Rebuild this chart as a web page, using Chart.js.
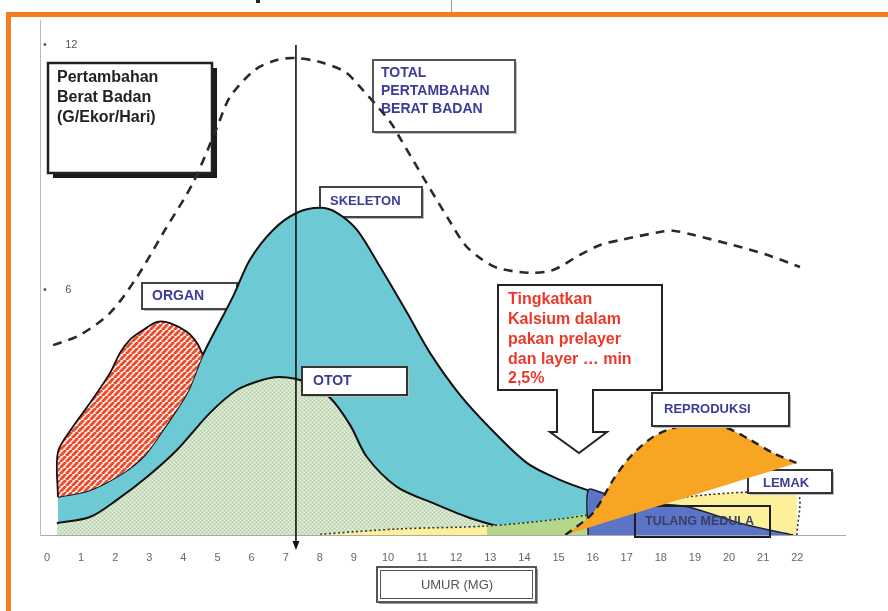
<!DOCTYPE html>
<html>
<head>
<meta charset="utf-8">
<script src="https://cdn.jsdelivr.net/npm/chart.js@4.4.0/dist/chart.umd.min.js"></script>
<style>
html, body { margin: 0; padding: 0; background: #fff; }
#wrap { position: relative; width: 888px; height: 611px; overflow: hidden; }
#frame { position: absolute; left: 6px; top: 12px; width: 1000px; height: 1000px;
  border-top: 5px solid #f47d20; border-left: 5px solid #f47d20; pointer-events: none; }
canvas { position: absolute; left: 0; top: 0; }
</style>
</head>
<body>
<div id="wrap">
  <canvas id="c" width="888" height="611"></canvas>
  <div id="frame"></div>
  <div style="position:absolute;left:451px;top:0;width:1px;height:12px;background:#999"></div>
  <div style="position:absolute;left:256px;top:0;width:4px;height:3px;background:#222"></div>
</div>
<script>
// umur (minggu) on x, gram/ekor/hari on y
const xTicks = [0,1,2,3,4,5,6,7,8,9,10,11,12,13,14,15,16,17,18,19,20,21,22];
const yTicks = [6, 12];

const totalGain = [[0.18,4.65],[0.97,4.90],[1.85,5.44],[2.64,6.32],[3.46,7.47],[4.28,8.62],[4.99,9.99],
  [5.37,10.73],[6.10,11.39],[6.74,11.63],[7.27,11.68],[8.01,11.58],[8.74,11.34],[9.18,10.97],[10.06,10.12],
  [10.35,9.72],[11.08,8.69],[11.82,7.67],[12.26,7.10],[12.70,6.78],[13.20,6.54],[14.16,6.42],[14.84,6.49],
  [15.63,6.86],[16.22,7.10],[16.80,7.22],[17.98,7.42],[18.36,7.45],[18.94,7.35],[20.12,7.10],[21.11,6.86],[22.08,6.56]];
const skeleton = [[0.32,0.93],[1.26,1.10],[2.23,1.52],[2.87,1.96],[3.40,2.57],[4.11,3.48],[4.57,4.41],
  [5.45,5.83],[5.95,6.74],[6.63,7.47],[7.33,7.89],[8.01,8.01],[8.50,7.89],[9.09,7.47],[9.77,6.56],
  [10.56,5.44],[11.23,4.46],[12.11,3.43],[12.99,2.62],[14.08,1.76],[15.04,1.35],[15.84,1.10],[16.07,1.05]];
const otot = [[0.29,0.29],[1.26,0.44],[2.05,0.86],[2.93,1.42],[3.81,2.08],[4.78,2.99],[5.57,3.55],
  [6.33,3.80],[6.83,3.87],[7.57,3.75],[8.30,3.36],[8.89,2.69],[9.38,1.91],[10.26,1.18],[11.32,0.78],
  [12.32,0.44],[13.28,0.20],[13.87,0.10]];
const organ = [[0.32,0.93],[0.32,2.03],[0.76,2.65],[1.26,3.23],[1.85,3.97],[2.14,4.46],[2.43,4.78],
  [2.82,5.02],[3.23,5.22],[3.61,5.19],[4.11,4.97],[4.40,4.70],[4.57,4.41]];
const lemak = [[8.01,0.02],[10.35,0.15],[12.90,0.22],[15.04,0.39],[15.84,0.49],[18.77,0.93],
  [20.53,1.05],[21.99,1.05],[21.99,0]];
const peralihan = [[12.90,0.20],[15.04,0.39],[15.84,0.49],[15.86,0]];
const tulangMedula = [[15.87,0],[15.87,1.10],[16.30,1.03],[17.68,0.78],[18.77,0.69],[20.32,0.29],[21.88,0]];
const reproduksi = [[15.20,0],[16.01,0.54],[16.60,1.35],[17.10,1.91],[17.77,2.40],[18.48,2.65],
  [19.24,2.74],[19.94,2.62],[20.62,2.33],[21.29,2.01],[21.99,1.76]];
const reproduksiBase = [[15.20,0],[21.99,1.76]];
const markerWeek = 7.3;

const pts = a => a.map(p => ({x: p[0], y: p[1]}));

function stripePattern() {
  const c = document.createElement('canvas');
  c.width = c.height = 6;
  const g = c.getContext('2d');
  g.fillStyle = '#fff';
  g.fillRect(0, 0, 6, 6);
  g.strokeStyle = '#ef4b2c';
  g.lineWidth = 3;
  g.beginPath();
  for (const o of [-6, 0, 6]) { g.moveTo(o, 6); g.lineTo(o + 6, 0); }
  g.stroke();
  return g.createPattern(c, 'repeat');
}
function dotPattern() {
  const c = document.createElement('canvas');
  c.width = c.height = 4;
  const g = c.getContext('2d');
  g.fillStyle = '#cfe1c4';
  g.fillRect(0, 0, 4, 4);
  g.fillStyle = '#eef5e8';
  g.fillRect(0, 0, 1, 1);
  g.fillRect(2, 2, 1, 1);
  g.fillStyle = '#b4cfa6';
  g.fillRect(2, 0, 1, 1);
  g.fillRect(0, 2, 1, 1);
  return g.createPattern(c, 'repeat');
}

const FONT = '"Liberation Sans", Arial, sans-serif';
const NAVY = '#3c3c98';

function drawBox(ctx, b) {
  ctx.save();
  if (b.shadow) {
    ctx.fillStyle = b.shadow;
    ctx.fillRect(b.x + b.so, b.y + b.so, b.w, b.h);
  }
  ctx.beginPath();
  if (b.arrow) {
    const a = b.arrow;
    ctx.moveTo(b.x, b.y); ctx.lineTo(b.x + b.w, b.y); ctx.lineTo(b.x + b.w, b.y + b.h);
    ctx.lineTo(a.r, b.y + b.h); ctx.lineTo(a.r, a.hy); ctx.lineTo(a.hr, a.hy);
    ctx.lineTo(a.tx, a.ty); ctx.lineTo(a.hl, a.hy); ctx.lineTo(a.l, a.hy);
    ctx.lineTo(a.l, b.y + b.h); ctx.lineTo(b.x, b.y + b.h); ctx.closePath();
  } else {
    ctx.rect(b.x, b.y, b.w, b.h);
  }
  if (b.fill) { ctx.fillStyle = b.fill; ctx.fill(); }
  ctx.lineWidth = b.lw || 2;
  ctx.strokeStyle = b.stroke || '#333';
  ctx.stroke();
  if (b.inner) {
    ctx.lineWidth = 1;
    ctx.strokeRect(b.x + 3.5, b.y + 3.5, b.w - 7, b.h - 7);
  }
  ctx.fillStyle = b.color;
  ctx.font = b.font;
  ctx.textBaseline = 'middle';
  ctx.textAlign = b.align || 'left';
  b.lines.forEach((t, i) => ctx.fillText(t, b.tx, b.ty + i * (b.lh || 0)));
  ctx.restore();
}

const backBoxes = [
  {x: 48, y: 63, w: 164, h: 110, fill: '#fff', stroke: '#222', lw: 2.5, shadow: '#1b1b1b', so: 5,
   lines: ['Pertambahan', 'Berat Badan', '(G/Ekor/Hari)'], tx: 57, ty: 78, lh: 20,
   color: '#222', font: 'bold 16px ' + FONT},
  {x: 373, y: 60, w: 142, h: 72, fill: '#fff', stroke: '#555', lw: 2, shadow: '#bbb', so: 2,
   lines: ['TOTAL', 'PERTAMBAHAN', 'BERAT BADAN'], tx: 381, ty: 73, lh: 18,
   color: NAVY, font: 'bold 14px ' + FONT},
  {x: 320, y: 187, w: 102, h: 30, fill: '#fff', stroke: '#444', lw: 2, shadow: '#bbb', so: 2,
   lines: ['SKELETON'], tx: 330, ty: 201, color: NAVY, font: 'bold 13px ' + FONT},
  {x: 142, y: 283, w: 95, h: 26, fill: '#fff', stroke: '#444', lw: 2, shadow: '#bbb', so: 2,
   lines: ['ORGAN'], tx: 152, ty: 296, color: NAVY, font: 'bold 14px ' + FONT}
];
const midBoxes = [
  {x: 748, y: 470, w: 84, h: 23, fill: '#fff', stroke: '#333', lw: 2, shadow: '#bbb', so: 2,
   lines: ['LEMAK'], tx: 763, ty: 483, color: NAVY, font: 'bold 13px ' + FONT},
  {x: 635, y: 506, w: 135, h: 31, stroke: '#1c1c2a', lw: 2,
   lines: ['TULANG MEDULA'], tx: 645, ty: 522, color: '#3a3e66', font: 'bold 12.5px ' + FONT}
];
const frontBoxes = [
  {x: 302, y: 367, w: 105, h: 28, fill: '#fff', stroke: '#333', lw: 2, shadow: '#bbb', so: 2,
   lines: ['OTOT'], tx: 313, ty: 381, color: NAVY, font: 'bold 14px ' + FONT},
  {x: 498, y: 285, w: 164, h: 105, fill: '#fff', stroke: '#222', lw: 2,
   arrow: {l: 557, r: 593, hy: 432, hl: 550, hr: 607, tx: 579, ty: 453},
   lines: ['Tingkatkan', 'Kalsium dalam', 'pakan prelayer', 'dan layer \u2026 min', '2,5%'],
   tx: 508, ty: 300, lh: 19.7, color: '#ea392a', font: 'bold 16px ' + FONT},
  {x: 652, y: 393, w: 137, h: 33, fill: '#fff', stroke: '#333', lw: 2, shadow: '#bbb', so: 2,
   lines: ['REPRODUKSI'], tx: 664, ty: 409, color: NAVY, font: 'bold 13px ' + FONT},
  {x: 377, y: 567, w: 159, h: 35, fill: '#fff', stroke: '#555', lw: 2, inner: true, shadow: '#999', so: 2,
   lines: ['UMUR (MG)'], tx: 457, ty: 585, align: 'center', color: '#555', font: '13px ' + FONT}
];

const annotations = {
  id: 'annotations',
  beforeDatasetsDraw(chart) {
    backBoxes.forEach(b => drawBox(chart.ctx, b));
  },
  afterDatasetDraw(chart, args) {
    if (args.index === 6) midBoxes.forEach(b => drawBox(chart.ctx, b));
  },
  afterDatasetsDraw(chart) {
    const ctx = chart.ctx;
    frontBoxes.forEach(b => drawBox(ctx, b));
    const x = chart.scales.x.getPixelForValue(markerWeek);
    ctx.save();
    ctx.strokeStyle = '#111';
    ctx.fillStyle = '#111';
    ctx.lineWidth = 1.6;
    ctx.beginPath();
    ctx.moveTo(x, 45);
    ctx.lineTo(x, 542);
    ctx.stroke();
    ctx.beginPath();
    ctx.moveTo(x - 3.5, 541); ctx.lineTo(x + 3.5, 541); ctx.lineTo(x, 550); ctx.closePath();
    ctx.fill();
    ctx.restore();
  }
};

const sets = [
  {data: pts(skeleton), fill: 'origin', backgroundColor: '#6dc9d4', borderColor: '#111', borderWidth: 2},
  {data: pts(otot), fill: 'origin', backgroundColor: dotPattern(), borderColor: '#111', borderWidth: 2},
  {data: pts(organ), fill: 0, backgroundColor: stripePattern(), borderColor: '#111', borderWidth: 1.8},
  {data: pts(lemak), fill: 'origin', backgroundColor: '#fcf09a', borderWidth: 0},
  {data: pts(peralihan), fill: 'origin', backgroundColor: '#b3d88b', borderWidth: 0},
  {data: pts(lemak), fill: false, borderColor: '#333', borderWidth: 1.6, borderDash: [2, 2.5]},
  {data: pts(tulangMedula), fill: 'origin', backgroundColor: '#5b74c6', borderColor: '#1e2240', borderWidth: 1.6},
  {data: pts(reproduksiBase), fill: false, borderWidth: 0, borderColor: 'rgba(0,0,0,0)'},
  {data: pts(reproduksi), fill: 7, backgroundColor: '#f8a524', borderColor: '#222', borderWidth: 2.4, borderDash: [8, 6]},
  {data: pts(totalGain), fill: false, borderColor: '#2a2a2a', borderWidth: 2.6, borderDash: [9, 7]}
];
sets.forEach((d, i) => { d.order = sets.length - i; d.pointRadius = 0; d.tension = 0.3; });

new Chart(document.getElementById('c'), {
  type: 'line',
  data: {datasets: sets},
  options: {
    responsive: false,
    animation: false,
    layout: {padding: {left: 40, right: 43, top: 20, bottom: 0}},
    plugins: {legend: {display: false}, tooltip: {enabled: false}},
    scales: {
      x: {
        type: 'linear', min: -0.205, max: 23.4,
        afterBuildTicks: s => { s.ticks = xTicks.map(v => ({value: v})); },
        afterFit: s => { s.height = 76; },
        ticks: {padding: 16, color: '#666', autoSkip: false, maxRotation: 0,
          font: {family: FONT, size: 11}, callback: v => String(v)},
        grid: {display: false, drawTicks: false},
        border: {color: '#aaa', width: 1}
      },
      y: {
        min: 0, max: 12.61,
        afterBuildTicks: s => { s.ticks = yTicks.map(v => ({value: v})); },
        afterFit: s => { s.width = 0; },
        ticks: {mirror: true, padding: 3, color: '#555',
          font: {family: FONT, size: 11}, callback: v => '\u2022      ' + v},
        grid: {display: false, drawTicks: false},
        border: {color: '#bbb', width: 1}
      }
    }
  },
  plugins: [annotations]
});
</script>
</body>
</html>
